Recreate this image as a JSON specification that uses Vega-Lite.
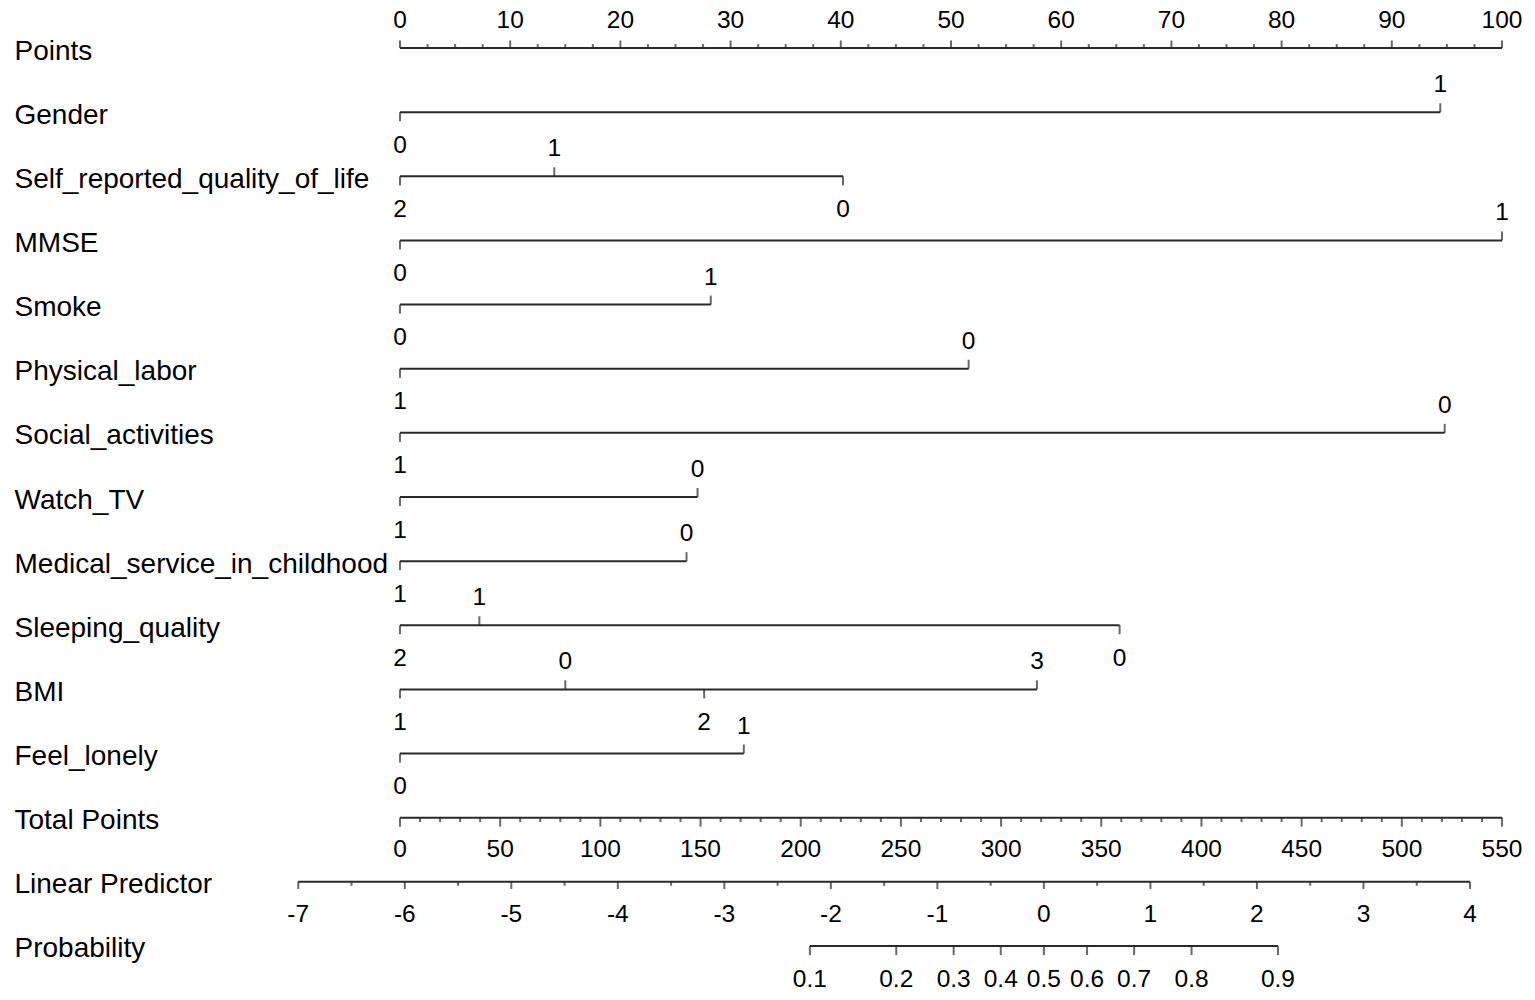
{
  "$schema": "https://vega.github.io/schema/vega-lite/v6.json",
  "width": 1245,
  "height": 994,
  "padding": {"left": 14, "top": 0, "right": 5, "bottom": 0},
  "autosize": {"type": "pad"},
  "background": "white",
  "config": {
    "view": {"stroke": null},
    "font": "Liberation Sans",
    "text": {"font": "Liberation Sans", "fontSize": 24.5, "color": "#000", "align": "center", "baseline": "middle"},
    "rule": {"color": "#2a2a2a", "strokeWidth": 2},
    "tick": {"color": "#2a2a2a", "thickness": 2}
  },
  "datasets": {
    "segs_pts": [
      {"row": "Points", "lo": 0, "hi": 100},
      {"row": "Gender", "lo": 0, "hi": 94.4},
      {"row": "Self_reported_quality_of_life", "lo": 0, "hi": 40.2},
      {"row": "MMSE", "lo": 0, "hi": 100},
      {"row": "Smoke", "lo": 0, "hi": 28.2},
      {"row": "Physical_labor", "lo": 0, "hi": 51.6},
      {"row": "Social_activities", "lo": 0, "hi": 94.8},
      {"row": "Watch_TV", "lo": 0, "hi": 27.0},
      {"row": "Medical_service_in_childhood", "lo": 0, "hi": 26.0},
      {"row": "Sleeping_quality", "lo": 0, "hi": 65.3},
      {"row": "BMI", "lo": 0, "hi": 57.8},
      {"row": "Feel_lonely", "lo": 0, "hi": 31.2}
    ],
    "levels": [
      {"row": "Gender", "lab": "0", "p": 0, "side": "below"},
      {"row": "Gender", "lab": "1", "p": 94.4, "side": "above"},
      {"row": "Self_reported_quality_of_life", "lab": "2", "p": 0, "side": "below"},
      {"row": "Self_reported_quality_of_life", "lab": "1", "p": 14.0, "side": "above"},
      {"row": "Self_reported_quality_of_life", "lab": "0", "p": 40.2, "side": "below"},
      {"row": "MMSE", "lab": "0", "p": 0, "side": "below"},
      {"row": "MMSE", "lab": "1", "p": 100, "side": "above"},
      {"row": "Smoke", "lab": "0", "p": 0, "side": "below"},
      {"row": "Smoke", "lab": "1", "p": 28.2, "side": "above"},
      {"row": "Physical_labor", "lab": "1", "p": 0, "side": "below"},
      {"row": "Physical_labor", "lab": "0", "p": 51.6, "side": "above"},
      {"row": "Social_activities", "lab": "1", "p": 0, "side": "below"},
      {"row": "Social_activities", "lab": "0", "p": 94.8, "side": "above"},
      {"row": "Watch_TV", "lab": "1", "p": 0, "side": "below"},
      {"row": "Watch_TV", "lab": "0", "p": 27.0, "side": "above"},
      {"row": "Medical_service_in_childhood", "lab": "1", "p": 0, "side": "below"},
      {"row": "Medical_service_in_childhood", "lab": "0", "p": 26.0, "side": "above"},
      {"row": "Sleeping_quality", "lab": "2", "p": 0, "side": "below"},
      {"row": "Sleeping_quality", "lab": "1", "p": 7.2, "side": "above"},
      {"row": "Sleeping_quality", "lab": "0", "p": 65.3, "side": "below"},
      {"row": "BMI", "lab": "1", "p": 0, "side": "below"},
      {"row": "BMI", "lab": "0", "p": 15.0, "side": "above"},
      {"row": "BMI", "lab": "2", "p": 27.6, "side": "below"},
      {"row": "BMI", "lab": "3", "p": 57.8, "side": "above"},
      {"row": "Feel_lonely", "lab": "0", "p": 0, "side": "below"},
      {"row": "Feel_lonely", "lab": "1", "p": 31.2, "side": "above"}
    ],
    "pts_major": [
      {"row": "Points", "p": 0, "lab": "0"}, {"row": "Points", "p": 10, "lab": "10"},
      {"row": "Points", "p": 20, "lab": "20"}, {"row": "Points", "p": 30, "lab": "30"},
      {"row": "Points", "p": 40, "lab": "40"}, {"row": "Points", "p": 50, "lab": "50"},
      {"row": "Points", "p": 60, "lab": "60"}, {"row": "Points", "p": 70, "lab": "70"},
      {"row": "Points", "p": 80, "lab": "80"}, {"row": "Points", "p": 90, "lab": "90"},
      {"row": "Points", "p": 100, "lab": "100"}
    ],
    "pts_minor": [
      {"row": "Points", "p": 2.5}, {"row": "Points", "p": 5}, {"row": "Points", "p": 7.5},
      {"row": "Points", "p": 12.5}, {"row": "Points", "p": 15}, {"row": "Points", "p": 17.5},
      {"row": "Points", "p": 22.5}, {"row": "Points", "p": 25}, {"row": "Points", "p": 27.5},
      {"row": "Points", "p": 32.5}, {"row": "Points", "p": 35}, {"row": "Points", "p": 37.5},
      {"row": "Points", "p": 42.5}, {"row": "Points", "p": 45}, {"row": "Points", "p": 47.5},
      {"row": "Points", "p": 52.5}, {"row": "Points", "p": 55}, {"row": "Points", "p": 57.5},
      {"row": "Points", "p": 62.5}, {"row": "Points", "p": 65}, {"row": "Points", "p": 67.5},
      {"row": "Points", "p": 72.5}, {"row": "Points", "p": 75}, {"row": "Points", "p": 77.5},
      {"row": "Points", "p": 82.5}, {"row": "Points", "p": 85}, {"row": "Points", "p": 87.5},
      {"row": "Points", "p": 92.5}, {"row": "Points", "p": 95}, {"row": "Points", "p": 97.5}
    ],
    "tp_seg": [{"row": "Total Points", "lo": 0, "hi": 550}],
    "tp_major": [
      {"row": "Total Points", "t": 0, "lab": "0"}, {"row": "Total Points", "t": 50, "lab": "50"},
      {"row": "Total Points", "t": 100, "lab": "100"}, {"row": "Total Points", "t": 150, "lab": "150"},
      {"row": "Total Points", "t": 200, "lab": "200"}, {"row": "Total Points", "t": 250, "lab": "250"},
      {"row": "Total Points", "t": 300, "lab": "300"}, {"row": "Total Points", "t": 350, "lab": "350"},
      {"row": "Total Points", "t": 400, "lab": "400"}, {"row": "Total Points", "t": 450, "lab": "450"},
      {"row": "Total Points", "t": 500, "lab": "500"}, {"row": "Total Points", "t": 550, "lab": "550"}
    ],
    "tp_minor": [
      {"row": "Total Points", "t": 10}, {"row": "Total Points", "t": 20}, {"row": "Total Points", "t": 30}, {"row": "Total Points", "t": 40},
      {"row": "Total Points", "t": 60}, {"row": "Total Points", "t": 70}, {"row": "Total Points", "t": 80}, {"row": "Total Points", "t": 90},
      {"row": "Total Points", "t": 110}, {"row": "Total Points", "t": 120}, {"row": "Total Points", "t": 130}, {"row": "Total Points", "t": 140},
      {"row": "Total Points", "t": 160}, {"row": "Total Points", "t": 170}, {"row": "Total Points", "t": 180}, {"row": "Total Points", "t": 190},
      {"row": "Total Points", "t": 210}, {"row": "Total Points", "t": 220}, {"row": "Total Points", "t": 230}, {"row": "Total Points", "t": 240},
      {"row": "Total Points", "t": 260}, {"row": "Total Points", "t": 270}, {"row": "Total Points", "t": 280}, {"row": "Total Points", "t": 290},
      {"row": "Total Points", "t": 310}, {"row": "Total Points", "t": 320}, {"row": "Total Points", "t": 330}, {"row": "Total Points", "t": 340},
      {"row": "Total Points", "t": 360}, {"row": "Total Points", "t": 370}, {"row": "Total Points", "t": 380}, {"row": "Total Points", "t": 390},
      {"row": "Total Points", "t": 410}, {"row": "Total Points", "t": 420}, {"row": "Total Points", "t": 430}, {"row": "Total Points", "t": 440},
      {"row": "Total Points", "t": 460}, {"row": "Total Points", "t": 470}, {"row": "Total Points", "t": 480}, {"row": "Total Points", "t": 490},
      {"row": "Total Points", "t": 510}, {"row": "Total Points", "t": 520}, {"row": "Total Points", "t": 530}, {"row": "Total Points", "t": 540}
    ],
    "lp_seg": [{"row": "Linear Predictor", "lo": -7, "hi": 4}],
    "lp_major": [
      {"row": "Linear Predictor", "v": -7, "lab": "-7"}, {"row": "Linear Predictor", "v": -6, "lab": "-6"},
      {"row": "Linear Predictor", "v": -5, "lab": "-5"}, {"row": "Linear Predictor", "v": -4, "lab": "-4"},
      {"row": "Linear Predictor", "v": -3, "lab": "-3"}, {"row": "Linear Predictor", "v": -2, "lab": "-2"},
      {"row": "Linear Predictor", "v": -1, "lab": "-1"}, {"row": "Linear Predictor", "v": 0, "lab": "0"},
      {"row": "Linear Predictor", "v": 1, "lab": "1"}, {"row": "Linear Predictor", "v": 2, "lab": "2"},
      {"row": "Linear Predictor", "v": 3, "lab": "3"}, {"row": "Linear Predictor", "v": 4, "lab": "4"}
    ],
    "lp_minor": [
      {"row": "Linear Predictor", "v": -6.5}, {"row": "Linear Predictor", "v": -5.5}, {"row": "Linear Predictor", "v": -4.5},
      {"row": "Linear Predictor", "v": -3.5}, {"row": "Linear Predictor", "v": -2.5}, {"row": "Linear Predictor", "v": -1.5},
      {"row": "Linear Predictor", "v": -0.5}, {"row": "Linear Predictor", "v": 0.5}, {"row": "Linear Predictor", "v": 1.5},
      {"row": "Linear Predictor", "v": 2.5}, {"row": "Linear Predictor", "v": 3.5}
    ],
    "prob_seg": [{"row": "Probability", "lo": -2.197, "hi": 2.197}],
    "prob": [
      {"row": "Probability", "v": -2.197, "lab": "0.1"},
      {"row": "Probability", "v": -1.386, "lab": "0.2"},
      {"row": "Probability", "v": -0.847, "lab": "0.3"},
      {"row": "Probability", "v": -0.405, "lab": "0.4"},
      {"row": "Probability", "v": 0.0, "lab": "0.5"},
      {"row": "Probability", "v": 0.405, "lab": "0.6"},
      {"row": "Probability", "v": 0.847, "lab": "0.7"},
      {"row": "Probability", "v": 1.386, "lab": "0.8"},
      {"row": "Probability", "v": 2.197, "lab": "0.9"}
    ]
  },
  "encoding": {
    "y": {
      "field": "row",
      "type": "nominal",
      "scale": {
        "type": "point",
        "padding": 0.75,
        "domain": ["Points", "Gender", "Self_reported_quality_of_life", "MMSE", "Smoke", "Physical_labor", "Social_activities", "Watch_TV", "Medical_service_in_childhood", "Sleeping_quality", "BMI", "Feel_lonely", "Total Points", "Linear Predictor", "Probability"]
      },
      "axis": {
        "title": null,
        "domain": false,
        "ticks": false,
        "tickSize": 0,
        "grid": false,
        "labelAlign": "left",
        "labelBaseline": "middle",
        "labelPadding": 271,
        "labelFont": "Liberation Sans",
        "labelFontSize": 28,
        "labelColor": "#000",
        "labelLimit": 0,
        "labelOffset": 3
      }
    }
  },
  "resolve": {"scale": {"x": "independent"}},
  "layer": [
    {
      "data": {"name": "segs_pts"},
      "mark": {"type": "rule"},
      "encoding": {
        "x": {"field": "lo", "type": "quantitative", "scale": {"domain": [-10.4356, 102.5408], "nice": false, "zero": false}, "axis": null},
        "x2": {"field": "hi"}
      }
    },
    {
      "data": {"name": "pts_major"},
      "mark": {"type": "tick", "yOffset": -3.8},
      "encoding": {
        "x": {"field": "p", "type": "quantitative", "scale": {"domain": [-10.4356, 102.5408], "nice": false, "zero": false}, "axis": null},
        "size": {"value": 7.6}
      }
    },
    {
      "data": {"name": "pts_minor"},
      "mark": {"type": "tick", "yOffset": -2},
      "encoding": {
        "x": {"field": "p", "type": "quantitative", "scale": {"domain": [-10.4356, 102.5408], "nice": false, "zero": false}, "axis": null},
        "size": {"value": 4}
      }
    },
    {
      "data": {"name": "pts_major"},
      "mark": {"type": "text", "dy": -26.6},
      "encoding": {
        "x": {"field": "p", "type": "quantitative", "scale": {"domain": [-10.4356, 102.5408], "nice": false, "zero": false}, "axis": null},
        "text": {"field": "lab"}
      }
    },
    {
      "data": {"name": "levels"},
      "transform": [{"filter": "datum.side == 'above'"}],
      "mark": {"type": "tick", "yOffset": -4.5},
      "encoding": {
        "x": {"field": "p", "type": "quantitative", "scale": {"domain": [-10.4356, 102.5408], "nice": false, "zero": false}, "axis": null},
        "size": {"value": 9}
      }
    },
    {
      "data": {"name": "levels"},
      "transform": [{"filter": "datum.side == 'below'"}],
      "mark": {"type": "tick", "yOffset": 4.5},
      "encoding": {
        "x": {"field": "p", "type": "quantitative", "scale": {"domain": [-10.4356, 102.5408], "nice": false, "zero": false}, "axis": null},
        "size": {"value": 9}
      }
    },
    {
      "data": {"name": "levels"},
      "transform": [{"filter": "datum.side == 'above'"}],
      "mark": {"type": "text", "dy": -27},
      "encoding": {
        "x": {"field": "p", "type": "quantitative", "scale": {"domain": [-10.4356, 102.5408], "nice": false, "zero": false}, "axis": null},
        "text": {"field": "lab"}
      }
    },
    {
      "data": {"name": "levels"},
      "transform": [{"filter": "datum.side == 'below'"}],
      "mark": {"type": "text", "dy": 33.5},
      "encoding": {
        "x": {"field": "p", "type": "quantitative", "scale": {"domain": [-10.4356, 102.5408], "nice": false, "zero": false}, "axis": null},
        "text": {"field": "lab"}
      }
    },
    {
      "data": {"name": "tp_seg"},
      "mark": {"type": "rule"},
      "encoding": {
        "x": {"field": "lo", "type": "quantitative", "scale": {"domain": [-57.395, 563.974], "nice": false, "zero": false}, "axis": null},
        "x2": {"field": "hi"}
      }
    },
    {
      "data": {"name": "tp_major"},
      "mark": {"type": "tick", "yOffset": 4.5},
      "encoding": {
        "x": {"field": "t", "type": "quantitative", "scale": {"domain": [-57.395, 563.974], "nice": false, "zero": false}, "axis": null},
        "size": {"value": 9}
      }
    },
    {
      "data": {"name": "tp_minor"},
      "mark": {"type": "tick", "yOffset": 2.2},
      "encoding": {
        "x": {"field": "t", "type": "quantitative", "scale": {"domain": [-57.395, 563.974], "nice": false, "zero": false}, "axis": null},
        "size": {"value": 4.4}
      }
    },
    {
      "data": {"name": "tp_major"},
      "mark": {"type": "text", "dy": 32.4},
      "encoding": {
        "x": {"field": "t", "type": "quantitative", "scale": {"domain": [-57.395, 563.974], "nice": false, "zero": false}, "axis": null},
        "text": {"field": "lab"}
      }
    },
    {
      "data": {"name": "lp_seg"},
      "mark": {"type": "rule"},
      "encoding": {
        "x": {"field": "lo", "type": "quantitative", "scale": {"domain": [-7.1245, 4.5635], "nice": false, "zero": false}, "axis": null},
        "x2": {"field": "hi"}
      }
    },
    {
      "data": {"name": "lp_major"},
      "mark": {"type": "tick", "yOffset": 3.6},
      "encoding": {
        "x": {"field": "v", "type": "quantitative", "scale": {"domain": [-7.1245, 4.5635], "nice": false, "zero": false}, "axis": null},
        "size": {"value": 7.2}
      }
    },
    {
      "data": {"name": "lp_minor"},
      "mark": {"type": "tick", "yOffset": 2},
      "encoding": {
        "x": {"field": "v", "type": "quantitative", "scale": {"domain": [-7.1245, 4.5635], "nice": false, "zero": false}, "axis": null},
        "size": {"value": 4}
      }
    },
    {
      "data": {"name": "lp_major"},
      "mark": {"type": "text", "dy": 33.4},
      "encoding": {
        "x": {"field": "v", "type": "quantitative", "scale": {"domain": [-7.1245, 4.5635], "nice": false, "zero": false}, "axis": null},
        "text": {"field": "lab"}
      }
    },
    {
      "data": {"name": "prob_seg"},
      "mark": {"type": "rule"},
      "encoding": {
        "x": {"field": "lo", "type": "quantitative", "scale": {"domain": [-7.1245, 4.5635], "nice": false, "zero": false}, "axis": null},
        "x2": {"field": "hi"}
      }
    },
    {
      "data": {"name": "prob"},
      "mark": {"type": "tick", "yOffset": 4.6},
      "encoding": {
        "x": {"field": "v", "type": "quantitative", "scale": {"domain": [-7.1245, 4.5635], "nice": false, "zero": false}, "axis": null},
        "size": {"value": 9.2}
      }
    },
    {
      "data": {"name": "prob"},
      "mark": {"type": "text", "dy": 34.3},
      "encoding": {
        "x": {"field": "v", "type": "quantitative", "scale": {"domain": [-7.1245, 4.5635], "nice": false, "zero": false}, "axis": null},
        "text": {"field": "lab"}
      }
    }
  ]
}
